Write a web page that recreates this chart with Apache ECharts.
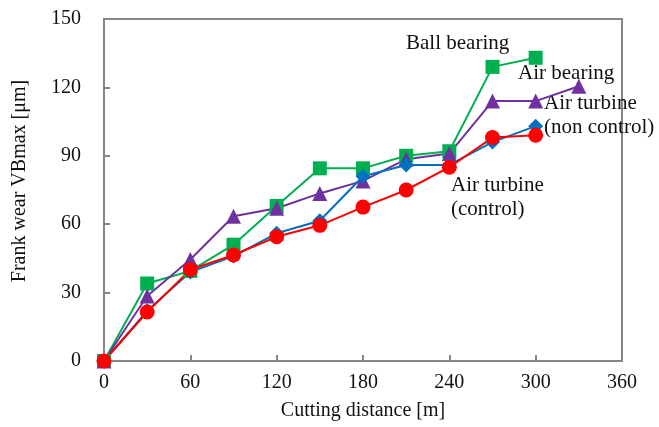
<!DOCTYPE html>
<html>
<head>
<meta charset="utf-8">
<script src="https://cdn.jsdelivr.net/npm/echarts@6/dist/echarts.min.js"></script>
<style>
  html, body { margin: 0; padding: 0; background: #fff; }
  #myChart { width: 659px; height: 427px; }
</style>
</head>
<body>
<div id="myChart"></div>
<script>
// cutting distance [m]
const distance = [0, 30, 60, 90, 120, 150, 180, 210, 240, 270, 300, 330]
// flank wear VBmax [um]
const ballBearing = [0, 34, 39.5, 51, 68, 84.5, 84.5, 90, 92, 129, 133]
const airBearing = [0, 28.5, 44.5, 63.5, 67, 73.5, 79, 88.5, 91, 114, 114, 120.5]
const turbineNonControl = [0, 22, 39, 46, 56, 61.5, 81, 86, 86, 96, 103]
const turbineControl = [0, 21.5, 40, 46.5, 54.5, 59.5, 67.5, 75, 85, 98, 99]

const xTicks = [0, 60, 120, 180, 240, 300, 360]
const yTicks = [0, 30, 60, 90, 120, 150]

const font = 'Liberation Serif'
const axisColor = '#868686'

function pairs(values) {
  return values.map((v, i) => [distance[i], v])
}

function line(name, values, color, symbol, size) {
  return {
    name: name,
    type: 'line',
    data: pairs(values),
    symbol: symbol,
    symbolSize: size,
    lineStyle: { color: color, width: 2 },
    itemStyle: { color: color },
    emphasis: { disabled: true }
  }
}

function axisCommon(ticks) {
  return {
    type: 'value',
    min: ticks[0],
    max: ticks[ticks.length - 1],
    interval: ticks[1] - ticks[0],
    nameLocation: 'middle',
    nameTextStyle: { fontFamily: font, fontSize: 20, color: '#111' },
    axisLine: { show: true, lineStyle: { color: axisColor, width: 2 } },
    axisTick: { show: true, inside: true, length: 6, lineStyle: { color: axisColor, width: 2 } },
    axisLabel: { fontFamily: font, fontSize: 20, color: '#111' },
    splitLine: { show: false }
  }
}

const labelStyle = { fontFamily: font, fontSize: 21, fill: '#111', verticalAlign: 'middle' }
function note(text, x, y) {
  return { type: 'text', left: x, top: y - 12, style: Object.assign({ text: text }, labelStyle) }
}

const myChart = echarts.init(document.getElementById('myChart'))
myChart.setOption({
  animation: false,
  grid: {
    left: 104, right: 37, top: 19, bottom: 66,
    show: true, borderColor: axisColor, borderWidth: 2
  },
  xAxis: Object.assign(axisCommon(xTicks), {
    name: 'Cutting distance [m]',
    nameGap: 40,
    axisLabel: { fontFamily: font, fontSize: 20, color: '#111', margin: 12 }
  }),
  yAxis: Object.assign(axisCommon(yTicks), {
    name: 'Frank wear VBmax [μm]',
    nameGap: 74,
    nameTextStyle: { fontFamily: font, fontSize: 20, color: '#111', padding: [0, 0, 0, 18] },
    axisLabel: { fontFamily: font, fontSize: 20, color: '#111', margin: 23 }
  }),
  graphic: [
    note('Ball bearing', 406, 45),
    note('Air bearing', 518, 75),
    note('Air turbine', 544, 105),
    note('(non control)', 544, 129),
    note('Air turbine', 451, 187),
    note('(control)', 451, 211)
  ],
  series: [
    line('Ball bearing', ballBearing, '#00B050', 'rect', 14),
    line('Air bearing', airBearing, '#7030A0', 'triangle', 15),
    line('Air turbine (non control)', turbineNonControl, '#0070C0', 'diamond', 15),
    line('Air turbine (control)', turbineControl, '#FF0000', 'circle', 15)
  ]
})
</script>
</body>
</html>
